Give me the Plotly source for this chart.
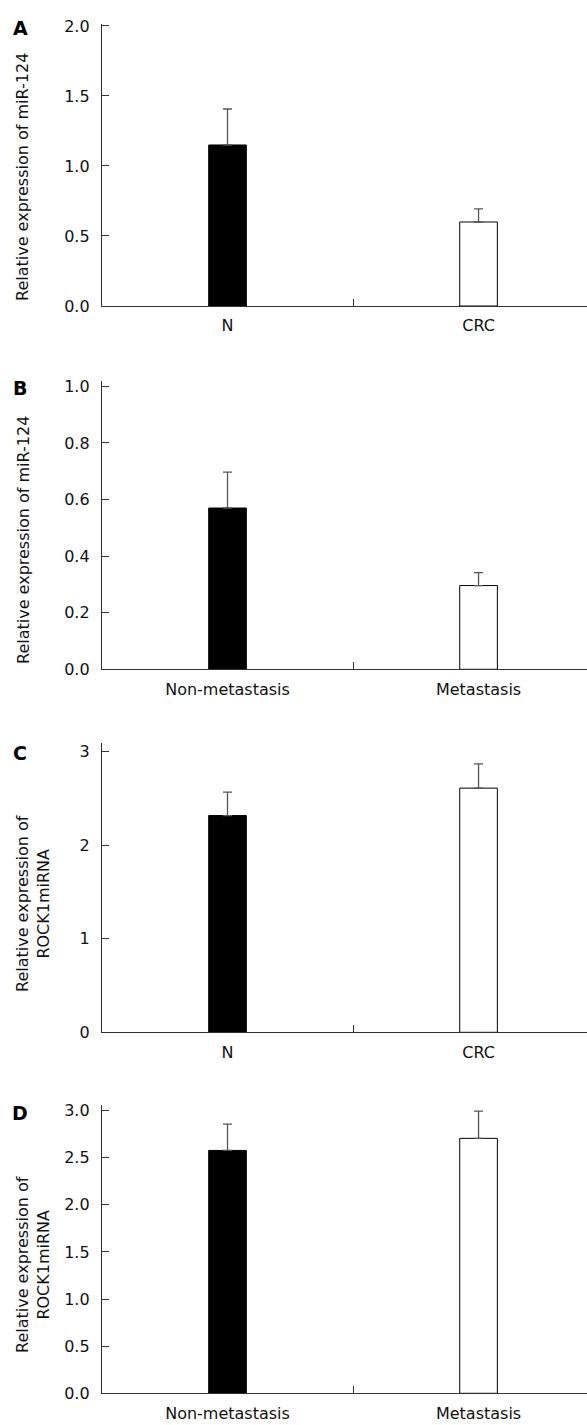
import plotly.graph_objects as go

# Panel data
cats_A = ["N", "CRC"]
vals_A = [1.15, 0.60]
err_A = [0.257, 0.093]

cats_B = ["Non-metastasis", "Metastasis"]
vals_B = [0.57, 0.296]
err_B = [0.127, 0.046]

cats_C = ["N", "CRC"]
vals_C = [2.315, 2.608]
err_C = [0.25, 0.26]

cats_D = ["Non-metastasis", "Metastasis"]
vals_D = [2.578, 2.706]
err_D = [0.28, 0.29]

letters = ["A", "B", "C", "D"]
ytitles = ["Relative expression of miR-124",
           "Relative expression of miR-124",
           "Relative expression of<br>ROCK1miRNA",
           "Relative expression of<br>ROCK1miRNA"]

W = 587
OFF = 0
FH = 1425
FONT = "DejaVu Sans"
AX = "#333333"
FS = 16


def py(y):
    return 1 - (y - OFF) / FH


panels = [
    dict(cats=cats_A, vals=vals_A, err=err_A, top=24, bot=306, rng=[0, 2.014], dtick=0.5, fmt=".1f", lab_y=177, let_y=28),
    dict(cats=cats_B, vals=vals_B, err=err_B, top=380.7, bot=669.3, rng=[0, 1.02], dtick=0.2, fmt=".1f", lab_y=540, let_y=388),
    dict(cats=cats_C, vals=vals_C, err=err_C, top=743, bot=1032.3, rng=[0, 3.09], dtick=1, fmt="d", lab_y=904, let_y=753),
    dict(cats=cats_D, vals=vals_D, err=err_D, top=1105, bot=1393.3, rng=[0, 3.06], dtick=0.5, fmt=".1f", lab_y=1265, let_y=1113),
]

fig = go.Figure()
layout = dict(
    template="none",
    width=W, height=FH,
    margin=dict(l=0, r=0, t=0, b=0, pad=0, autoexpand=False),
    paper_bgcolor="white", plot_bgcolor="white",
    showlegend=False,
    font=dict(family=FONT, size=FS, color="#111111"),
)
annotations = []
x_left = 102 / W

for i, p in enumerate(panels):
    n = i + 1
    xa = "x" if n == 1 else f"x{n}"
    ya = "y" if n == 1 else f"y{n}"
    fig.add_trace(go.Bar(
        x=[0, 1], y=p["vals"], width=0.15,
        marker=dict(color=["black", "white"], line=dict(color="black", width=1)),
        error_y=dict(type="data", array=p["err"], arrayminus=[0, 0], symmetric=False,
                     color="#555555", thickness=1.3, width=4.5),
        xaxis=xa, yaxis=ya,
    ))
    dom_y = [py(p["bot"]), py(p["top"])]
    layout[f"xaxis{'' if n == 1 else n}"] = dict(
        domain=[x_left, 1.0], anchor=ya, range=[-0.5, 1.432],
        tickvals=[0, 1], ticktext=p["cats"], ticks="",
        showline=True, linecolor=AX, linewidth=1.3, showgrid=False, zeroline=False,
        minor=dict(tickvals=[0.5], ticks="inside", ticklen=7, tickcolor=AX, tickwidth=1.3, showgrid=False),
        ticklabelstandoff=5, automargin=False,
        tickfont=dict(family=FONT, size=FS, color="#111111"),
        fixedrange=True,
    )
    layout[f"yaxis{'' if n == 1 else n}"] = dict(
        domain=dom_y, anchor=xa, range=p["rng"], dtick=p["dtick"], tick0=0,
        tickformat=p["fmt"], ticks="inside", ticklen=7, tickcolor=AX, tickwidth=1.3,
        showline=True, linecolor=AX, linewidth=1.3, showgrid=False, zeroline=False,
        ticklabelstandoff=8, automargin=False,
        tickfont=dict(family=FONT, size=FS, color="#111111"),
        fixedrange=True,
    )
    annotations.append(dict(
        text=ytitles[i], textangle=-90, xref="paper", yref="paper",
        x=(33 if "<br>" in ytitles[i] else 23) / W, y=py(p["lab_y"]),
        xanchor="center", yanchor="middle", showarrow=False,
        font=dict(family=FONT, size=FS, color="#111111"),
    ))
    annotations.append(dict(
        text=f"<b>{letters[i]}</b>", xref="paper", yref="paper",
        x=20 / W, y=py(p["let_y"]), xanchor="center", yanchor="middle",
        showarrow=False, font=dict(family=FONT, size=19, color="black"),
    ))

layout["annotations"] = annotations
fig.update_layout(**layout)
fig.write_html(
    "out.html",
    config={"displayModeBar": False},
    post_script="document.body.style.margin='0';document.body.style.overflow='hidden';",
)
